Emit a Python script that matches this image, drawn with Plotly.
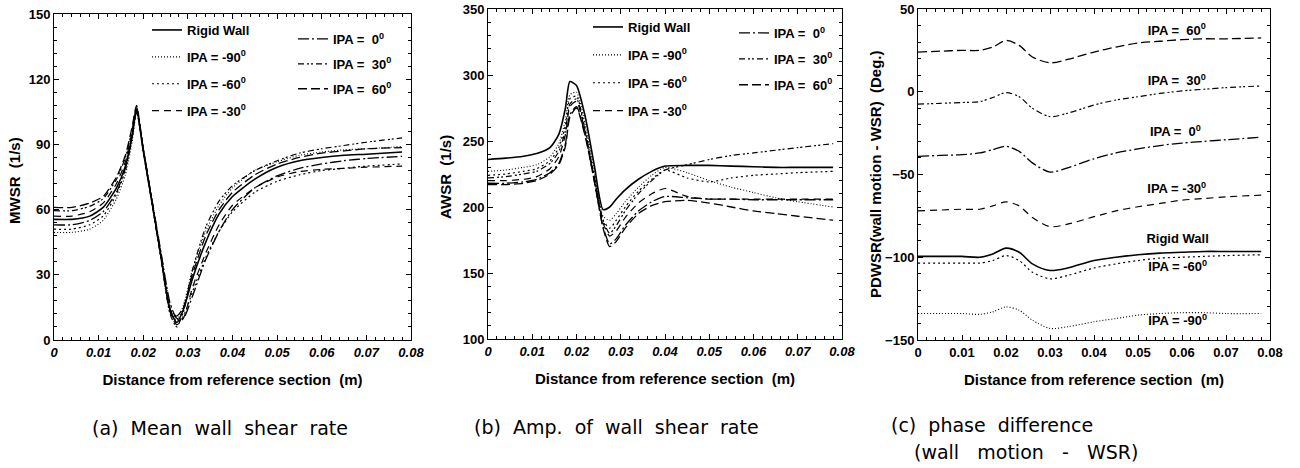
import plotly.graph_objects as go

# ---------------- data ----------------
X_AB = [0, 0.004, 0.008, 0.011, 0.014, 0.016, 0.0175, 0.0185, 0.020, 0.022, 0.024, 0.026, 0.0275,
        0.029, 0.031, 0.034, 0.037, 0.040, 0.045, 0.050, 0.055, 0.060, 0.065, 0.070, 0.078]
X_C = [0, 0.005, 0.010, 0.014, 0.017, 0.020, 0.023, 0.026, 0.030, 0.034, 0.040, 0.045, 0.050,
       0.055, 0.060, 0.065, 0.070, 0.078]

SERIES = ["Rigid Wall", "IPA = -90<sup>0</sup>", "IPA = -60<sup>0</sup>", "IPA = -30<sup>0</sup>",
          "IPA =  0<sup>0</sup>", "IPA =  30<sup>0</sup>", "IPA =  60<sup>0</sup>"]

# (a) Mean wall shear rate
MWSR_RIGID = [55.5, 55.5, 57, 61, 70, 80, 94, 106, 87, 63, 38, 14, 8, 14, 28, 45, 58, 66, 74, 79.5, 82.5, 84, 85, 85.5, 86.5]
MWSR_M90 = [49.5, 49.5, 51, 55, 65, 76, 91, 105, 88, 64, 40, 16, 9, 16, 32, 50, 62, 70, 78, 82, 85, 86.5, 87.5, 88, 89]
MWSR_M60 = [51, 51, 53, 57, 67, 78, 93, 106, 87, 63, 38, 14, 8, 11, 22, 38, 50, 59, 68, 73, 76, 78, 79, 80, 81]
MWSR_M30 = [57, 57, 59, 63, 72, 82, 96, 107, 88, 63, 38, 13, 7, 10, 24, 40, 53, 62, 70, 75, 77.5, 78.5, 79, 79.5, 80]
MWSR_P0 = [53, 53, 55, 59, 68, 79, 93, 105, 88, 64, 40, 17, 10, 10, 20, 37, 50, 60, 70, 75.5, 79, 81, 82.5, 83.5, 84.5]
MWSR_P30 = [59.5, 59.5, 61.5, 65, 74, 84, 97, 107, 87, 62, 37, 12, 6, 13, 32, 52, 64, 71, 78, 82.5, 86, 88, 89.5, 91, 93]
MWSR_P60 = [61, 61, 63, 66, 75, 85, 98, 108, 88, 63, 38, 14, 11, 15, 30, 48, 60, 68, 76, 81, 84, 86, 87, 88, 88.5]

# (b) Amplitude of wall shear rate
AWSR_RIGID = [236, 237, 238.5, 240.5, 245, 255, 275, 295, 292, 268, 232, 198, 200, 206, 213, 221, 227, 231, 231.5, 231.5, 231, 230.5, 230, 230, 230]
AWSR_M90 = [227, 228, 230, 232, 238, 248, 266, 285, 287, 262, 228, 193, 190, 195, 204, 215, 224, 230, 226, 220, 215, 211, 207, 204, 200]
AWSR_M60 = [224, 225, 227, 229, 235, 245, 262, 282, 284, 258, 224, 190, 184, 190, 200, 212, 221, 228, 222, 219, 222, 224, 225, 226, 227]
AWSR_M30 = [220, 220, 221, 223, 229, 238, 255, 276, 280, 256, 222, 188, 178, 182, 192, 203, 210, 214, 208, 206, 206, 206, 206, 206, 206]
AWSR_P0 = [218, 218, 219, 221, 226, 233, 248, 270, 276, 254, 220, 185, 172, 176, 186, 197, 204, 208, 207, 206, 206, 205.5, 205.5, 205.5, 205.5]
AWSR_P30 = [222, 223, 225, 227, 233, 242, 258, 278, 282, 257, 223, 190, 180, 186, 197, 210, 220, 228, 232, 236, 239, 241, 243, 245, 248]
AWSR_P60 = [217, 217, 218, 220, 225, 232, 246, 268, 275, 253, 220, 184, 170, 174, 184, 195, 201, 204, 205, 203, 200, 197, 195, 193, 190]

# (c) Phase difference (wall motion - WSR)
PD_RIGID = [-99.5, -99.5, -99.5, -100, -98, -94.5, -97, -104, -108, -106.5, -102, -100, -98.5, -97.5, -97, -96.5, -96.5, -96.5]
PD_M90 = [-134, -134, -134, -134.5, -133, -130, -132, -138, -143, -142, -139, -137, -135, -134, -133.5, -133.5, -134, -134]
PD_M60 = [-103.5, -103.5, -103.5, -103.5, -102, -99, -102, -109, -113, -111, -106.5, -104, -102, -100.5, -100, -99.5, -99, -98.5]
PD_M30 = [-72, -71.5, -71, -71, -69, -66.5, -69, -76, -81.5, -80, -75.5, -72, -69.5, -67.5, -65.5, -64.5, -63.5, -62.5]
PD_P0 = [-39, -38.5, -38, -37, -35, -33, -36, -43, -48.5, -46, -40.5, -37, -34.5, -32.5, -31, -30, -29, -27.5]
PD_P30 = [-7.5, -7, -6.5, -6, -3.5, -0.5, -3, -10, -15, -13, -8, -5, -3, -1, 0.5, 1.5, 2.5, 3.5]
PD_P60 = [24, 24.5, 25, 25, 27, 31, 28, 21, 17.5, 19.5, 24, 27, 29.5, 30.5, 31.5, 32, 32, 32.5]

# labels placed on panel (c)
PC_LABEL_X = [0.059, 0.059, 0.059, 0.0588, 0.0585, 0.0588, 0.0588]
PC_LABEL_Y = [-89.5, -139, -106.5, -59.5, -25, 6, 36.5]
PC_LABELS = ["Rigid Wall", "IPA = -90<sup>0</sup>", "IPA = -60<sup>0</sup>", "IPA = -30<sup>0</sup>",
             "IPA =  0<sup>0</sup>", "IPA =  30<sup>0</sup>", "IPA =  60<sup>0</sup>"]

X_TICKS = [0, 0.01, 0.02, 0.03, 0.04, 0.05, 0.06, 0.07, 0.08]
X_TICKTEXT = ["0", "0.01", "0.02", "0.03", "0.04", "0.05", "0.06", "0.07", "0.08"]

Y_TITLES = ["MWSR  (1/s)", "AWSR  (1/s)", "PDWSR(wall motion - WSR)  (Deg.)"]
CAPTIONS = ["(a) Mean wall shear rate", "(b) Amp. of wall shear rate", "(c) phase difference", "(wall motion - WSR)"]

# ---------------- styling ----------------
W, H = 1300, 468
FONT = "Liberation Sans, Arial, sans-serif"
DASHES = ["solid", "1px,2px", "2px,3px", "7px,5px", "11px,3px,2px,3px", "6px,3px,2px,2px,2px,3px", "9px,4px"]
WIDTHS = [1.6, 1.1, 1.2, 1.2, 1.3, 1.2, 1.3]


def xd(p0, p1):
    return [p0 / W, p1 / W]


def yd(top, bottom):
    return [1 - bottom / H, 1 - top / H]


fig = go.Figure()

panel_a = [MWSR_RIGID, MWSR_M90, MWSR_M60, MWSR_M30, MWSR_P0, MWSR_P30, MWSR_P60]
panel_b = [AWSR_RIGID, AWSR_M90, AWSR_M60, AWSR_M30, AWSR_P0, AWSR_P30, AWSR_P60]
panel_c = [PD_RIGID, PD_M90, PD_M60, PD_M30, PD_P0, PD_P30, PD_P60]

for i, (name, ys) in enumerate(zip(SERIES, panel_a)):
    fig.add_trace(go.Scatter(x=X_AB, y=ys, name=name, mode="lines", xaxis="x", yaxis="y",
                             line=dict(color="black", width=WIDTHS[i], dash=DASHES[i], shape="spline", smoothing=0.6),
                             legend="legend" if i < 4 else "legend2", legendgroup="a%d" % i))
for i, (name, ys) in enumerate(zip(SERIES, panel_b)):
    fig.add_trace(go.Scatter(x=X_AB, y=ys, name=name, mode="lines", xaxis="x2", yaxis="y2",
                             line=dict(color="black", width=WIDTHS[i], dash=DASHES[i], shape="spline", smoothing=0.6),
                             legend="legend3" if i < 4 else "legend4", legendgroup="b%d" % i))
for i, (name, ys) in enumerate(zip(SERIES, panel_c)):
    fig.add_trace(go.Scatter(x=X_C, y=ys, name=name, mode="lines", xaxis="x3", yaxis="y3", showlegend=False,
                             line=dict(color="black", width=WIDTHS[i], dash=DASHES[i], shape="spline", smoothing=0.8)))

fig.add_trace(go.Scatter(x=PC_LABEL_X, y=PC_LABEL_Y, text=PC_LABELS, mode="text", xaxis="x3", yaxis="y3",
                         showlegend=False, textposition="middle center",
                         textfont=dict(family=FONT, size=13, color="black", weight="bold")))

XTITLE = "Distance from reference section\u00a0\u00a0(m)"


def xaxis(domain, anchor, italic=True):
    return dict(domain=domain, anchor=anchor, range=[0, 0.08], tickvals=X_TICKS, ticktext=X_TICKTEXT,
                showline=True, linecolor="black", linewidth=1, mirror="allticks", automargin=False,
                ticks="inside", ticklen=5, tickwidth=1, tickcolor="black",
                showgrid=False, zeroline=False,
                minor=dict(ticks="inside", ticklen=3, dtick=0.002, tickcolor="black", tickwidth=1, showgrid=False),
                tickfont=dict(family=FONT, size=13, color="black", weight="bold", style="italic" if italic else "normal"),
                title=dict(text=XTITLE, font=dict(family=FONT, size=15, color="black", weight="bold")))


def yaxis(domain, anchor, rng, dtick, minor):
    return dict(domain=domain, anchor=anchor, range=rng, dtick=dtick, tick0=rng[0],
                showline=True, linecolor="black", linewidth=1, mirror="allticks", automargin=False,
                ticks="inside", ticklen=5, tickwidth=1, tickcolor="black",
                showgrid=False, zeroline=False,
                minor=dict(ticks="inside", ticklen=3, dtick=minor, tickcolor="black", tickwidth=1, showgrid=False),
                tickfont=dict(family=FONT, size=13, color="black", weight="bold"))


def legend(x, y, gap=7):
    return dict(x=x / W, y=1 - y / H, xanchor="left", yanchor="top", bgcolor="rgba(0,0,0,0)",
                borderwidth=0, tracegroupgap=gap, itemwidth=30,
                font=dict(family=FONT, size=13, color="black", weight="bold"))


caption_font = dict(family="DejaVu Sans, sans-serif", size=19, color="black")


def spaced(t, n=2):
    return t.replace(" ", "\u00a0" * n)


def caption(text, x, y, n=2):
    return dict(text=spaced(text, n), x=x / W, y=1 - y / H, xref="paper", yref="paper",
                showarrow=False, xanchor="left", yanchor="middle", font=caption_font)


def ytitle(text, x, y):
    return dict(text=text.replace("  ", "\u00a0\u00a0"), x=x / W, y=1 - y / H, xref="paper", yref="paper",
                showarrow=False, xanchor="center", yanchor="middle", textangle=-90,
                font=dict(family=FONT, size=15, color="black", weight="bold"))


fig.update_layout(
    width=W, height=H, margin=dict(l=0, r=0, t=0, b=0, pad=0, autoexpand=False),
    paper_bgcolor="white", plot_bgcolor="white",
    xaxis=xaxis(xd(54, 411), "y"),
    yaxis=yaxis(yd(14, 340), "x", [0, 150], 30, 6),
    xaxis2=xaxis(xd(488, 842), "y2"),
    yaxis2=yaxis(yd(9, 339), "x2", [100, 350], 50, 10),
    xaxis3=xaxis(xd(918, 1270), "y3", italic=False),
    yaxis3=yaxis(yd(9, 340), "x3", [-150, 50], 50, 10),
    legend=legend(147, 15),
    legend2=legend(293, 24, 5),
    legend3=legend(588, 12, 8),
    legend4=legend(734, 18, 6),
    annotations=[
        ytitle(Y_TITLES[0], 15, 181),
        ytitle(Y_TITLES[1], 445, 177),
        ytitle(Y_TITLES[2], 875, 175),
        caption(CAPTIONS[0], 90, 428),
        caption(CAPTIONS[1], 472, 427),
        caption(CAPTIONS[2], 889, 425),
        caption(CAPTIONS[3], 912, 452, 3),
    ],
)

fig.write_html("out.html", config={"displayModeBar": False})

# remove the default page margin so the figure sits at the window origin
with open("out.html", "r", encoding="utf-8") as f:
    html = f.read()
html = html.replace("<head>", "<head><style>html,body{margin:0;padding:0;overflow:hidden;}</style>", 1)
with open("out.html", "w", encoding="utf-8") as f:
    f.write(html)
